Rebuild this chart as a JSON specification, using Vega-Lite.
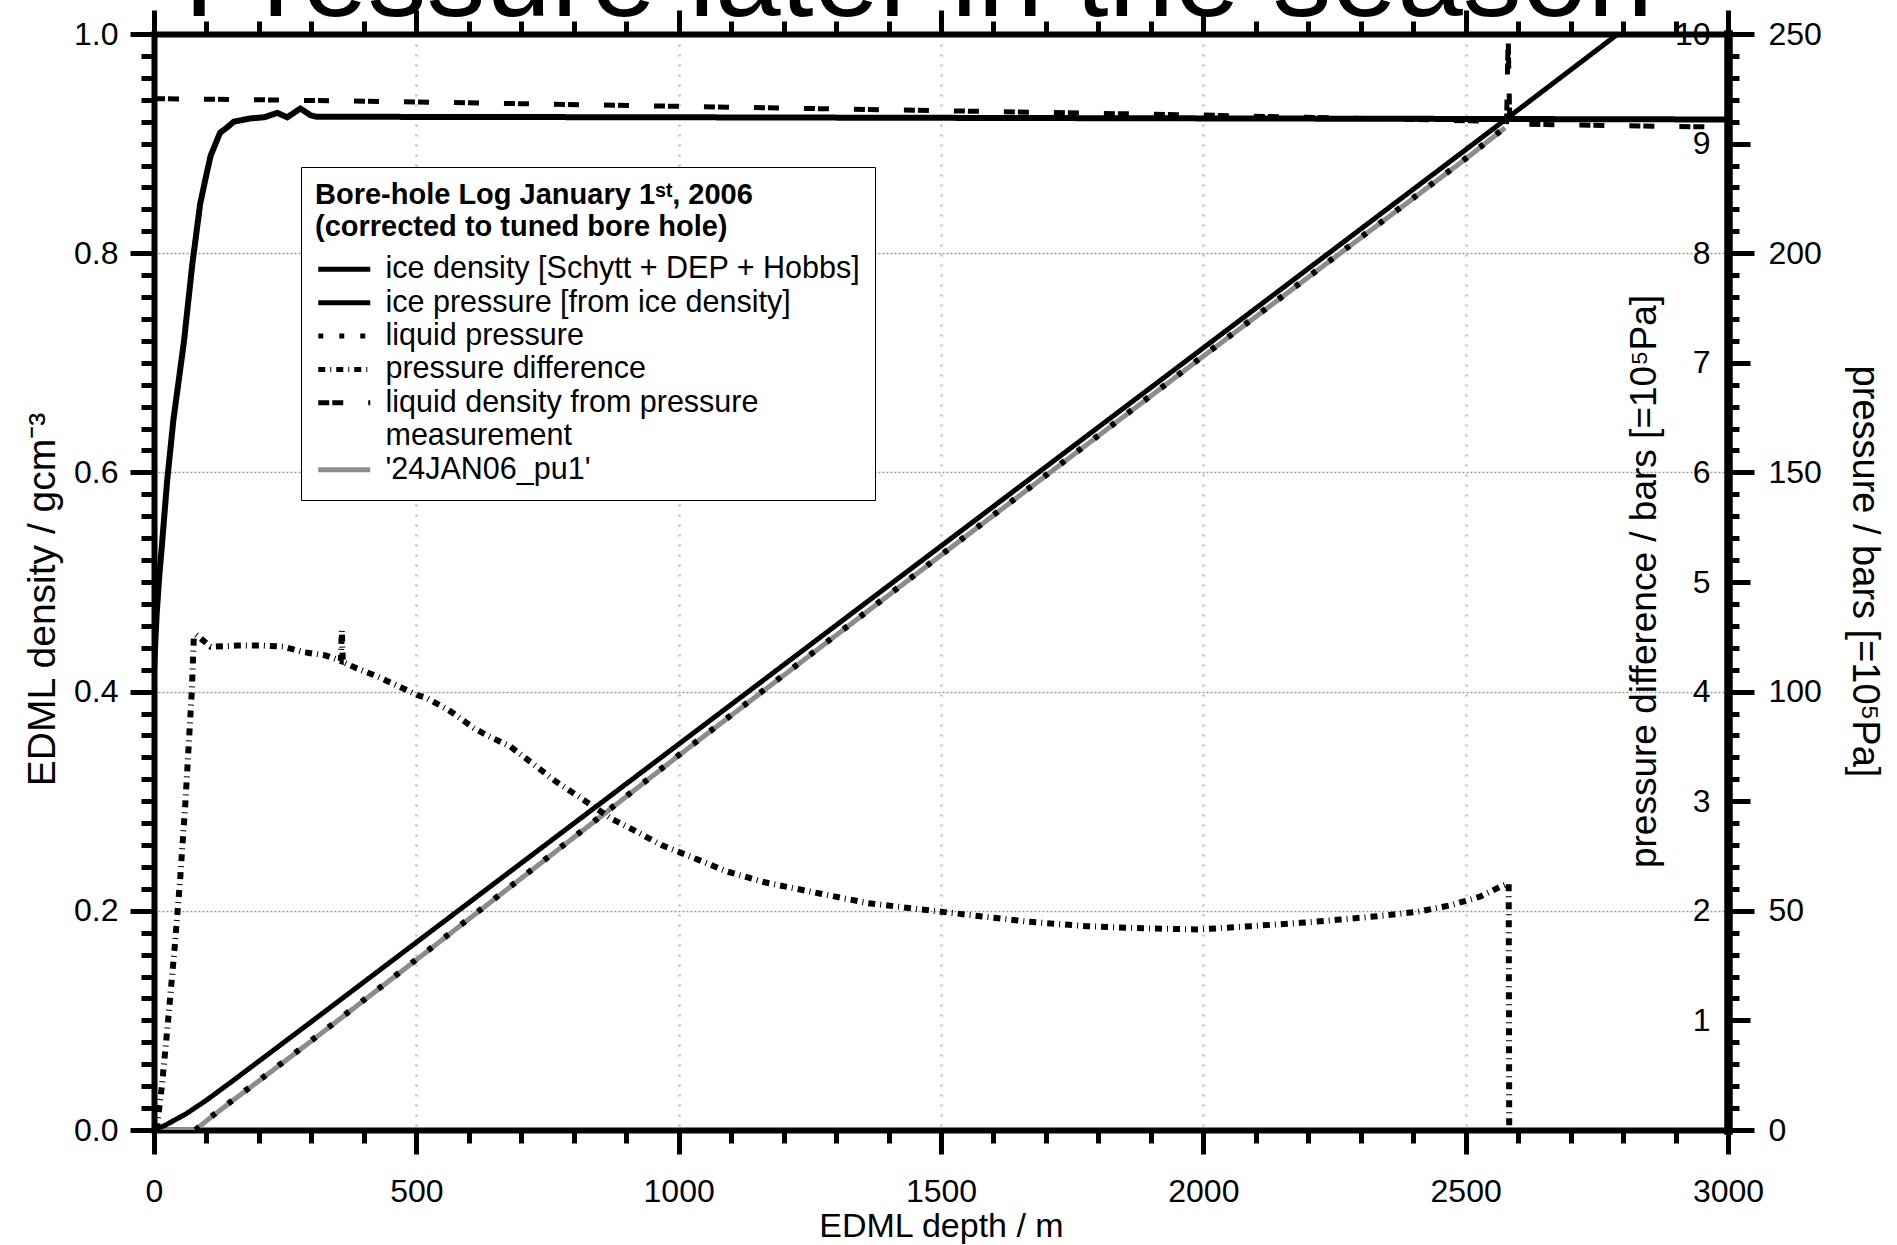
{
"$schema":"https://vega.github.io/schema/vega-lite/v6.json",
"width":1574,"height":1096,
"autosize":{"type":"none"},
"padding":{"left":154,"top":34,"right":169,"bottom":115},
"background":"white",
"config":{
 "view":{"stroke":null},
 "font":"Liberation Sans",
 "axis":{"labelFont":"Liberation Sans","titleFont":"Liberation Sans","labelColor":"black","titleColor":"black","tickColor":"black","domainColor":"black","labelFontSize":32,"titleFontSize":34,"titleFontWeight":"normal","tickWidth":5,"domainWidth":6,"grid":false,"labelFlush":false,"labelOverlap":false,"domainCap":"square"}
},
"data":{"values":[
{"s":"ice density [Schytt + DEP + Hobbs]","d":0,"v":0.42},
{"s":"ice density [Schytt + DEP + Hobbs]","d":5,"v":0.47},
{"s":"ice density [Schytt + DEP + Hobbs]","d":10,"v":0.505},
{"s":"ice density [Schytt + DEP + Hobbs]","d":15,"v":0.533},
{"s":"ice density [Schytt + DEP + Hobbs]","d":25,"v":0.592},
{"s":"ice density [Schytt + DEP + Hobbs]","d":37,"v":0.648},
{"s":"ice density [Schytt + DEP + Hobbs]","d":57,"v":0.719},
{"s":"ice density [Schytt + DEP + Hobbs]","d":73,"v":0.79},
{"s":"ice density [Schytt + DEP + Hobbs]","d":88,"v":0.845},
{"s":"ice density [Schytt + DEP + Hobbs]","d":100,"v":0.872},
{"s":"ice density [Schytt + DEP + Hobbs]","d":108,"v":0.889},
{"s":"ice density [Schytt + DEP + Hobbs]","d":126,"v":0.91},
{"s":"ice density [Schytt + DEP + Hobbs]","d":140,"v":0.915},
{"s":"ice density [Schytt + DEP + Hobbs]","d":152,"v":0.92},
{"s":"ice density [Schytt + DEP + Hobbs]","d":184,"v":0.923},
{"s":"ice density [Schytt + DEP + Hobbs]","d":210,"v":0.924},
{"s":"ice density [Schytt + DEP + Hobbs]","d":235,"v":0.928},
{"s":"ice density [Schytt + DEP + Hobbs]","d":254,"v":0.924},
{"s":"ice density [Schytt + DEP + Hobbs]","d":279,"v":0.932},
{"s":"ice density [Schytt + DEP + Hobbs]","d":298,"v":0.926},
{"s":"ice density [Schytt + DEP + Hobbs]","d":310,"v":0.9245},
{"s":"ice density [Schytt + DEP + Hobbs]","d":1000,"v":0.924},
{"s":"ice density [Schytt + DEP + Hobbs]","d":2000,"v":0.923},
{"s":"ice density [Schytt + DEP + Hobbs]","d":3000,"v":0.922},
{"s":"liquid density from pressure","d":0,"v":0.941},
{"s":"liquid density from pressure","d":200,"v":0.94},
{"s":"liquid density from pressure","d":500,"v":0.938},
{"s":"liquid density from pressure","d":750,"v":0.936},
{"s":"liquid density from pressure","d":1000,"v":0.934},
{"s":"liquid density from pressure","d":1500,"v":0.93},
{"s":"liquid density from pressure","d":2000,"v":0.926},
{"s":"liquid density from pressure","d":2400,"v":0.922},
{"s":"liquid density from pressure","d":2578,"v":0.92},
{"s":"liquid density from pressure","d":2581,"v":1.0},
{"s":"liquid density from pressure","d":2584,"v":0.918},
{"s":"liquid density from pressure","d":2700,"v":0.917},
{"s":"liquid density from pressure","d":3000,"v":0.915},
{"s":"pressure difference","d":5,"v":0},
{"s":"pressure difference","d":15,"v":0.4},
{"s":"pressure difference","d":25,"v":0.9},
{"s":"pressure difference","d":40,"v":1.7},
{"s":"pressure difference","d":50,"v":2.3},
{"s":"pressure difference","d":60,"v":3.0},
{"s":"pressure difference","d":66,"v":3.5},
{"s":"pressure difference","d":72,"v":4.0},
{"s":"pressure difference","d":76,"v":4.5},
{"s":"pressure difference","d":80,"v":4.52},
{"s":"pressure difference","d":108,"v":4.41},
{"s":"pressure difference","d":158,"v":4.42},
{"s":"pressure difference","d":209,"v":4.42},
{"s":"pressure difference","d":247,"v":4.41},
{"s":"pressure difference","d":285,"v":4.36},
{"s":"pressure difference","d":327,"v":4.33},
{"s":"pressure difference","d":356,"v":4.28},
{"s":"pressure difference","d":358,"v":4.56},
{"s":"pressure difference","d":360,"v":4.27},
{"s":"pressure difference","d":387,"v":4.21},
{"s":"pressure difference","d":425,"v":4.14},
{"s":"pressure difference","d":470,"v":4.04},
{"s":"pressure difference","d":501,"v":3.97},
{"s":"pressure difference","d":520,"v":3.94},
{"s":"pressure difference","d":562,"v":3.83},
{"s":"pressure difference","d":609,"v":3.67},
{"s":"pressure difference","d":635,"v":3.6},
{"s":"pressure difference","d":679,"v":3.5},
{"s":"pressure difference","d":763,"v":3.19},
{"s":"pressure difference","d":810,"v":3.04},
{"s":"pressure difference","d":872,"v":2.84},
{"s":"pressure difference","d":909,"v":2.75},
{"s":"pressure difference","d":967,"v":2.6},
{"s":"pressure difference","d":1025,"v":2.49},
{"s":"pressure difference","d":1091,"v":2.36},
{"s":"pressure difference","d":1164,"v":2.26},
{"s":"pressure difference","d":1266,"v":2.16},
{"s":"pressure difference","d":1361,"v":2.07},
{"s":"pressure difference","d":1448,"v":2.02},
{"s":"pressure difference","d":1558,"v":1.96},
{"s":"pressure difference","d":1667,"v":1.9},
{"s":"pressure difference","d":1777,"v":1.86},
{"s":"pressure difference","d":1886,"v":1.84},
{"s":"pressure difference","d":1994,"v":1.83},
{"s":"pressure difference","d":2090,"v":1.86},
{"s":"pressure difference","d":2185,"v":1.89},
{"s":"pressure difference","d":2261,"v":1.92},
{"s":"pressure difference","d":2331,"v":1.95},
{"s":"pressure difference","d":2407,"v":1.99},
{"s":"pressure difference","d":2471,"v":2.05},
{"s":"pressure difference","d":2528,"v":2.13},
{"s":"pressure difference","d":2566,"v":2.22},
{"s":"pressure difference","d":2582,"v":2.25},
{"s":"pressure difference","d":2583,"v":0},
{"s":"ice pressure [from ice density]","d":0,"v":0},
{"s":"ice pressure [from ice density]","d":20,"v":1.0},
{"s":"ice pressure [from ice density]","d":40,"v":2.3},
{"s":"ice pressure [from ice density]","d":60,"v":3.6},
{"s":"ice pressure [from ice density]","d":80,"v":5.2},
{"s":"ice pressure [from ice density]","d":100,"v":6.8},
{"s":"ice pressure [from ice density]","d":150,"v":11.2},
{"s":"ice pressure [from ice density]","d":200,"v":15.7},
{"s":"ice pressure [from ice density]","d":300,"v":24.7},
{"s":"ice pressure [from ice density]","d":500,"v":42.8},
{"s":"ice pressure [from ice density]","d":843,"v":73.8},
{"s":"ice pressure [from ice density]","d":1000,"v":88.0},
{"s":"ice pressure [from ice density]","d":1500,"v":133.2},
{"s":"ice pressure [from ice density]","d":2000,"v":178.4},
{"s":"ice pressure [from ice density]","d":2500,"v":223.6},
{"s":"ice pressure [from ice density]","d":2566,"v":229.6},
{"s":"ice pressure [from ice density]","d":2790,"v":250},
{"s":"liquid pressure","d":79,"v":0},
{"s":"liquid pressure","d":100,"v":2.2},
{"s":"liquid pressure","d":150,"v":6.8},
{"s":"liquid pressure","d":200,"v":11.3},
{"s":"liquid pressure","d":300,"v":20.4},
{"s":"liquid pressure","d":500,"v":38.9},
{"s":"liquid pressure","d":843,"v":70.8},
{"s":"liquid pressure","d":1000,"v":85.5},
{"s":"liquid pressure","d":1500,"v":131.2},
{"s":"liquid pressure","d":2000,"v":176.6},
{"s":"liquid pressure","d":2500,"v":221.6},
{"s":"liquid pressure","d":2575,"v":228.7},
{"s":"'24JAN06_pu1'","d":0,"v":0},
{"s":"'24JAN06_pu1'","d":79,"v":0},
{"s":"'24JAN06_pu1'","d":100,"v":2.1},
{"s":"'24JAN06_pu1'","d":150,"v":6.7},
{"s":"'24JAN06_pu1'","d":200,"v":11.2},
{"s":"'24JAN06_pu1'","d":300,"v":20.3},
{"s":"'24JAN06_pu1'","d":500,"v":38.8},
{"s":"'24JAN06_pu1'","d":843,"v":70.7},
{"s":"'24JAN06_pu1'","d":1000,"v":85.4},
{"s":"'24JAN06_pu1'","d":1500,"v":131.1},
{"s":"'24JAN06_pu1'","d":2000,"v":176.5},
{"s":"'24JAN06_pu1'","d":2500,"v":221.5},
{"s":"'24JAN06_pu1'","d":2575,"v":228.6}
]},
"encoding":{
 "color":{"field":"s","type":"nominal",
  "scale":{"domain":["ice density [Schytt + DEP + Hobbs]","ice pressure [from ice density]","liquid pressure","pressure difference","liquid density from pressure","measurement","'24JAN06_pu1'"],
           "range":["black","black","black","black","black","transparent","#8c8c8c"]},
  "legend":{"orient":"none","legendX":147,"legendY":133,"padding":14,"strokeColor":"black","fillColor":"white",
   "title":["Bore-hole Log January 1ˢᵗ, 2006","(corrected to tuned bore hole)"],"titleLimit":900,
   "titleFont":"Liberation Sans","titleFontSize":29,"titleFontWeight":"bold","titleColor":"black","titleLineHeight":32,"titlePadding":12,
   "labelFont":"Liberation Sans","labelFontSize":30.5,"labelColor":"black","labelOffset":26,"labelLimit":0,
   "symbolType":"M-4,0H4","symbolSize":169,"symbolStrokeWidth":5,"symbolOffset":14,"rowPadding":2.4,"symbolLimit":0}},
 "strokeDash":{"field":"s","type":"nominal",
  "scale":{"domain":["ice density [Schytt + DEP + Hobbs]","ice pressure [from ice density]","liquid pressure","pressure difference","liquid density from pressure","measurement","'24JAN06_pu1'"],
           "range":[[1,0],[1,0],[5,16],[7,5,1,5],[11,3,11,25],[1,0],[1,0]]},
  "legend":{"orient":"none","legendX":147,"legendY":133,"padding":14,"strokeColor":"black","fillColor":"white",
   "title":["Bore-hole Log January 1ˢᵗ, 2006","(corrected to tuned bore hole)"],"titleLimit":900,
   "titleFont":"Liberation Sans","titleFontSize":29,"titleFontWeight":"bold","titleColor":"black","titleLineHeight":32,"titlePadding":12,
   "labelFont":"Liberation Sans","labelFontSize":30.5,"labelColor":"black","labelOffset":26,"labelLimit":0,
   "symbolType":"M-4,0H4","symbolSize":169,"symbolStrokeWidth":5,"symbolOffset":14,"rowPadding":2.4,"symbolLimit":0}}
},
"layer":[
 {"transform":[{"filter":{"field":"s","equal":"'24JAN06_pu1'"}}],
  "mark":{"type":"line","strokeWidth":5,"clip":true},
  "encoding":{
   "x":{"field":"d","type":"quantitative","scale":{"domain":[0,3000],"nice":false,"zero":false},
        "axis":{"orient":"bottom","values":[0,500,1000,1500,2000,2500,3000],"format":"d","title":"EDML depth / m","titlePadding":2,"tickSize":24,"labelPadding":22,"grid":true,"gridColor":"#c8c8c8","gridDash":[2,8],"gridWidth":3}},
   "y":{"field":"v","type":"quantitative","scale":{"domain":[0,250],"nice":false},
        "axis":{"orient":"right","values":[0,50,100,150,200,250],"tickSize":26,"labelPadding":14,"labelAlign":"left","labelBaseline":"middle","domainWidth":8.5,"title":"pressure / bars [=10⁵Pa]","titleAngle":90,"titleX":135,"titleY":537,"titleAlign":"center","titleBaseline":"middle","titleFontSize":38}}}},
 {"transform":[{"filter":{"field":"s","equal":"ice density [Schytt + DEP + Hobbs]"}}],
  "mark":{"type":"line","strokeWidth":6,"clip":true},
  "encoding":{
   "x":{"field":"d","type":"quantitative","scale":{"domain":[0,3000],"nice":false,"zero":false},
        "axis":{"orient":"top","values":[0,500,1000,1500,2000,2500,3000],"labels":false,"tickSize":24,"title":"Pressure later in the season","titleFontSize":118,"titleX":764,"titleY":-19,"titleAlign":"center","titleBaseline":"alphabetic","titleAngle":0}},
   "y":{"field":"v","type":"quantitative","scale":{"domain":[0,1],"nice":false},
        "axis":{"orient":"left","values":[0,0.2,0.4,0.6,0.8,1.0],"format":".1f","tickSize":24,"labelPadding":12,"title":"EDML density / gcm⁻³","titleAngle":-90,"titleX":-112,"titleY":565,"titleAlign":"center","titleBaseline":"middle","titleFontSize":39,"grid":true,"gridColor":"#999","gridDash":[2,2],"gridWidth":1.3}}}},
 {"transform":[{"filter":{"field":"s","equal":"liquid density from pressure"}}],
  "mark":{"type":"line","strokeWidth":5,"clip":true},
  "encoding":{
   "x":{"field":"d","type":"quantitative","scale":{"domain":[0,3000],"nice":false,"zero":false},
        "axis":{"orient":"bottom","values":[0,100,200,300,400,500,600,700,800,900,1000,1100,1200,1300,1400,1500,1600,1700,1800,1900,2000,2100,2200,2300,2400,2500,2600,2700,2800,2900,3000],"labels":false,"tickSize":13,"domain":false,"title":null}},
   "y":{"field":"v","type":"quantitative","scale":{"domain":[0,1],"nice":false},
        "axis":{"orient":"left","values":[0,0.02,0.04,0.06,0.08,0.1,0.12,0.14,0.16,0.18,0.2,0.22,0.24,0.26,0.28,0.3,0.32,0.34,0.36,0.38,0.4,0.42,0.44,0.46,0.48,0.5,0.52,0.54,0.56,0.58,0.6,0.62,0.64,0.66,0.68,0.7,0.72,0.74,0.76,0.78,0.8,0.82,0.84,0.86,0.88,0.9,0.92,0.94,0.96,0.98,1.0],"labels":false,"tickSize":13,"domain":false,"title":null}}}},
 {"transform":[{"filter":{"field":"s","equal":"ice pressure [from ice density]"}}],
  "mark":{"type":"line","strokeWidth":5,"clip":true},
  "encoding":{
   "x":{"field":"d","type":"quantitative","scale":{"domain":[0,3000],"nice":false,"zero":false},
        "axis":{"orient":"top","values":[0,100,200,300,400,500,600,700,800,900,1000,1100,1200,1300,1400,1500,1600,1700,1800,1900,2000,2100,2200,2300,2400,2500,2600,2700,2800,2900,3000],"labels":false,"tickSize":13,"domain":false,"title":null}},
   "y":{"field":"v","type":"quantitative","scale":{"domain":[0,250],"nice":false},
        "axis":{"orient":"right","values":[25,75,125,175,225],"labels":false,"tickSize":22,"domain":false,"title":null}}}},
 {"transform":[{"filter":{"field":"s","equal":"pressure difference"}}],
  "mark":{"type":"line","strokeWidth":6,"clip":true},
  "encoding":{
   "x":{"field":"d","type":"quantitative","scale":{"domain":[0,3000],"nice":false,"zero":false},"axis":null},
   "y":{"field":"v","type":"quantitative","scale":{"domain":[0,10],"nice":false},
        "axis":{"orient":"right","values":[1,2,3,4,5,6,7,8,9,10],"ticks":false,"domain":false,"labelAlign":"right","labelBaseline":"middle","labelPadding":-18,"title":"pressure difference / bars [=10⁵Pa]","titleAngle":-90,"titleX":-84,"titleY":547,"titleAlign":"center","titleBaseline":"middle","titleFontSize":37}}}},
 {"transform":[{"filter":{"field":"s","equal":"liquid pressure"}}],
  "mark":{"type":"line","strokeWidth":6,"clip":true},
  "encoding":{
   "x":{"field":"d","type":"quantitative","scale":{"domain":[0,3000],"nice":false,"zero":false},"axis":null},
   "y":{"field":"v","type":"quantitative","scale":{"domain":[0,250],"nice":false},
        "axis":{"orient":"right","values":[0,5,10,15,20,25,30,35,40,45,50,55,60,65,70,75,80,85,90,95,100,105,110,115,120,125,130,135,140,145,150,155,160,165,170,175,180,185,190,195,200,205,210,215,220,225,230,235,240,245,250],"labels":false,"tickSize":11,"domain":false,"title":null}}}}
],
"resolve":{"scale":{"x":"independent","y":"independent"},"axis":{"x":"independent","y":"independent"}}
}
